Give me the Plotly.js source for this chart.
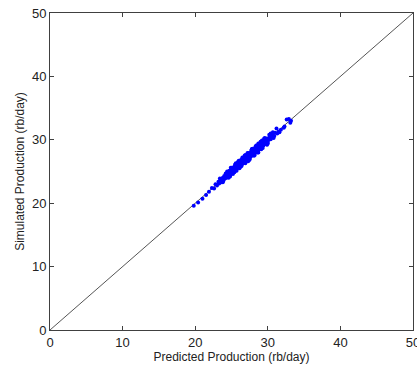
<!DOCTYPE html>
<html><head><meta charset="utf-8">
<script src="https://cdn.plot.ly/plotly-3.0.1.min.js"></script>
<style>html,body{margin:0;padding:0;background:#fff}#c{width:417px;height:365px}</style>
</head><body><div id="c"></div>
<script>
const predicted = [19.8,20.4,21.0,21.5,21.9,22.3,22.6,22.8,23.0,23.2,23.3,23.5,23.6,23.8,23.9,24.0,24.1,24.2,24.3,24.4,24.5,24.5,24.6,24.7,24.8,24.9,25.0,25.0,25.1,25.2,25.3,25.3,25.4,25.5,25.6,25.6,25.7,25.8,25.9,25.9,26.0,26.1,26.2,26.2,26.3,26.4,26.5,26.5,26.6,26.7,26.8,26.8,26.9,27.0,27.1,27.1,27.2,27.3,27.4,27.4,27.5,27.6,27.7,27.7,27.8,27.9,28.0,28.0,28.1,28.2,28.3,28.3,28.4,28.5,28.6,28.6,28.7,28.8,28.9,28.9,29.0,29.1,29.2,29.3,29.4,29.5,29.6,29.7,29.8,29.9,30.0,30.2,30.4,30.6,30.9,31.3,31.8,32.2,32.6,33.1,
25.4,25.8,26.0,26.4,26.7,27.0,27.3,27.6,27.9,28.2,28.5,28.8,29.1,29.4,29.7,30.1,30.3,24.7,24.3,25.1,26.6,27.5,28.4,29.0,30.5,31.0,31.5,32.3,32.9,33.2,
24.9,25.2,25.5,25.7,26.0,26.3,26.5,26.9,27.2,27.5,27.8,28.1,28.4,28.7,29.0,29.3,29.6,29.9,30.2,24.4,24.8,25.6,26.1,26.8,27.3,27.9,28.6,29.2,29.8,30.7,
23.4,23.8,24.2,24.6,25.0,25.4,25.9,26.4,26.9,27.4,27.8,28.2,28.7,29.1,29.5,30.0,30.4,30.8,31.2,31.6];
const simulated = [19.6,20.1,20.7,21.3,21.8,22.4,22.3,23.0,22.8,23.4,23.1,23.7,23.3,24.0,23.6,24.3,23.9,24.5,24.0,24.7,24.2,24.9,24.5,25.1,24.4,25.0,24.7,25.4,25.0,25.6,24.9,25.3,25.8,25.2,25.7,26.1,25.4,26.0,25.6,26.4,25.9,26.5,25.8,26.3,26.8,26.1,26.6,27.0,26.3,26.9,26.5,27.2,26.8,27.5,26.7,27.2,27.7,26.9,27.4,27.9,27.1,27.7,28.2,27.4,27.9,28.4,27.6,28.1,28.6,27.9,28.4,28.9,28.1,28.6,29.1,28.2,28.8,29.3,28.5,29.0,29.5,28.8,29.3,29.7,29.1,29.6,30.0,29.4,29.9,30.2,29.7,30.3,30.1,30.7,30.6,31.0,31.6,31.9,33.2,32.7,
25.5,25.7,26.2,26.4,26.6,27.0,27.3,27.5,27.8,28.3,28.4,28.7,29.1,29.5,29.8,30.0,30.5,24.7,24.4,25.2,26.7,27.6,28.5,29.0,30.4,31.1,31.3,32.1,33.3,33.0,
25.6,24.6,26.1,25.1,26.7,25.8,27.2,26.3,27.9,26.9,28.5,27.5,29.1,28.0,29.7,28.7,30.3,29.2,30.8,25.0,24.2,26.3,25.5,27.5,26.6,28.6,28.0,29.9,29.3,31.2,
23.9,23.3,24.7,24.0,25.6,24.9,26.5,25.9,27.6,26.8,28.5,27.6,29.4,28.5,30.2,29.4,31.0,30.3,31.8,31.2];
const lineX = [0, 50];
const lineY = [0, 50];
const tickVals = [0,10,20,30,40,50];

const axisBase = {
  range:[0,50], tickvals:tickVals, ticks:'inside', ticklen:4, tickcolor:'#404040',
  showline:true, linecolor:'#404040', linewidth:1, mirror:'ticks',
  showgrid:false, zeroline:false, ticklabeloverflow:'allow',
  tickfont:{family:'Liberation Sans, Arial, sans-serif', size:13, color:'#222'}
};
Plotly.newPlot('c', [
  {x:lineX, y:lineY, mode:'lines', line:{color:'#555', width:1}, hoverinfo:'skip'},
  {x:predicted, y:simulated, mode:'markers', marker:{color:'#0000ff', size:4, symbol:'circle'}}
], {
  width:417, height:365, showlegend:false,
  margin:{l:50, r:4, t:13, b:35},
  paper_bgcolor:'#fff', plot_bgcolor:'#fff',
  xaxis: Object.assign({}, axisBase, {title:{text:'Predicted Production (rb/day)', standoff:2, font:{family:'Liberation Sans, Arial, sans-serif', size:12, color:'#222'}}}),
  yaxis: Object.assign({}, axisBase, {title:{text:'Simulated Production (rb/day)', standoff:4, font:{family:'Liberation Sans, Arial, sans-serif', size:12, color:'#222'}}})
}, {staticPlot:true});
</script></body></html>
